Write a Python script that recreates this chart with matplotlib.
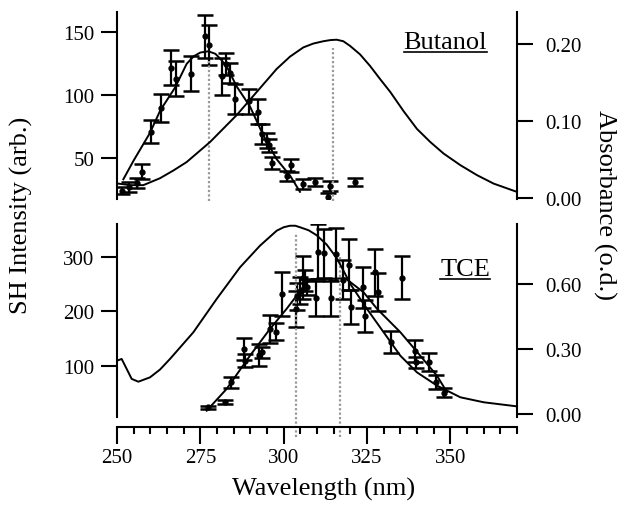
import matplotlib
matplotlib.use("Agg")
import matplotlib.pyplot as plt
from matplotlib.lines import Line2D
from matplotlib.ticker import MultipleLocator, FormatStrFormatter

plt.rcParams['font.family'] = ['Liberation Serif', 'DejaVu Serif']

# ---- Butanol (top panel) ----
but_wl = [251.5, 253.5, 255.9, 257.6, 260.2, 263.1, 266.2, 267.7, 272.3, 276.4,
          277.6, 281.6, 282.7, 283.8, 285.5, 289.5, 292.2, 293.6, 294.9, 295.7,
          296.5, 301.0, 302.2, 305.7, 309.4, 313.8, 313.2, 321.4]
but_sh = [24, 27, 30, 39, 71, 90, 122, 113, 117, 147,
          140, 115, 125, 118, 97, 95, 87, 69, 64, 60,
          46, 36, 44, 29, 31, 28, 19, 31]
but_err = [3, 4, 4, 6, 9, 11, 14, 14, 14, 17,
           16, 15, 9, 8, 12, 10, 10, 8, 6, 5,
           5, 4, 5, 4, 3, 4, 3, 3]
but_fit_wl = [251.9, 255.0, 259.9, 263.0, 267.4, 270.9, 273.0, 275.0, 277.4, 279.5,
              281.0, 282.9, 285.9, 289.9, 293.9, 297.9, 301.9, 304.9]
but_fit_sh = [33, 48, 70, 88, 106, 125, 131, 134, 135, 133,
              129, 123, 107, 91, 68, 49, 36, 23]
but_abs_wl = [250.4, 254.0, 257.9, 262.9, 266.9, 270.9, 277.9, 285.9, 291.9, 297.9,
              301.9, 305.9, 308.9, 311.9, 314.0, 315.9, 317.9, 319.9, 322.9, 325.9,
              328.9, 332.0, 336.0, 340.0, 344.0, 348.0, 353.0, 358.0, 363.0, 369.5]
but_abs = [0.019, 0.017, 0.017, 0.026, 0.036, 0.047, 0.073, 0.108, 0.138, 0.168,
           0.184, 0.196, 0.201, 0.204, 0.2055, 0.206, 0.204, 0.198, 0.187, 0.172,
           0.155, 0.138, 0.113, 0.090, 0.073, 0.058, 0.043, 0.030, 0.019, 0.009]
but_peaks = [277.6, 314.8]

# ---- TCE (bottom panel) ----
tce_wl = [277.4, 282.4, 284.1, 288.1, 288.3, 292.7, 293.4, 295.9, 297.6, 299.5,
          303.6, 304.0, 305.0, 305.8, 306.5, 307.0, 309.7, 310.3, 312.1, 314.2,
          315.8, 317.8, 319.5, 320.3, 323.9, 324.4, 327.4, 328.3, 332.2, 335.6,
          339.4, 339.7, 343.6, 345.7, 348.1]
tce_sh = [24, 34, 70, 131, 110, 120, 125, 168, 163, 232,
          205, 228, 238, 262, 257, 245, 224, 310, 307, 224,
          306, 258, 286, 208, 244, 192, 272, 236, 144, 262,
          127, 107, 107, 70, 51]
tce_err = [3, 4, 10, 20, 12, 20, 10, 25, 15, 40,
           33, 25, 25, 40, 20, 15, 32, 50, 45, 32,
           48, 36, 47, 31, 37, 29, 43, 35, 20, 39,
           20, 10, 17, 13, 8]
tce_fit_wl = [276.9, 282.9, 289.9, 295.9, 300.9, 303.4, 306.4, 308.4, 313.0,
              318.5, 324.0, 328.0, 335.0, 340.0, 346.0, 349.0]
tce_fit_sh = [18, 58, 119, 168, 205, 225, 250, 259, 260,
              261, 235, 205, 162, 126, 82, 52]
tce_abs_wl = [250.0, 251.4, 252.9, 254.4, 256.4, 259.9, 262.9, 265.9, 272.9, 279.9,
              286.9, 292.9, 297.9, 300.0, 301.9, 303.5, 304.9, 307.5, 309.9, 312.9,
              315.9, 318.0, 320.0, 325.0, 330.0, 335.0, 340.0, 346.0, 353.0, 360.0,
              369.5]
tce_abs = [0.246, 0.254, 0.208, 0.162, 0.149, 0.169, 0.205, 0.254, 0.377, 0.531,
           0.677, 0.777, 0.846, 0.862, 0.869, 0.869, 0.862, 0.848, 0.825, 0.782,
           0.720, 0.660, 0.600, 0.485, 0.377, 0.269, 0.192, 0.131, 0.077, 0.054,
           0.036]
tce_peaks = [303.6, 316.9]

fig = plt.figure(figsize=(6.28, 5.06), dpi=100)
W, H = 628.0, 506.0
x0, x1 = 117, 517
ax_top = fig.add_axes([x0 / W, 1 - 200 / H, (x1 - x0) / W, (200 - 13) / H])
ax_bot = fig.add_axes([x0 / W, 1 - 418 / H, (x1 - x0) / W, (418 - 225) / H])
ax_top2 = ax_top.twinx()
ax_bot2 = ax_bot.twinx()

lw = 1.4
err_kw = dict(fmt='o', color='black', ms=3.5, elinewidth=1.6, capsize=5.5, capthick=1.8)
peak_kw = dict(color='0.6', lw=1.6, linestyles=(0, (1, 1)), clip_on=False)

# top panel
ax_top.errorbar(but_wl, but_sh, yerr=but_err, **err_kw)
ax_top.plot(but_fit_wl, but_fit_sh, color='black', lw=lw)
ax_top2.plot(but_abs_wl, but_abs, color='black', lw=lw)
ax_top.vlines(but_peaks[0], 15.7, 129, **peak_kw)
ax_top.vlines(but_peaks[1], 15.7, 138, **peak_kw)

# bottom panel
ax_bot.errorbar(tce_wl, tce_sh, yerr=tce_err, **err_kw)
ax_bot.plot(tce_fit_wl, tce_fit_sh, color='black', lw=lw)
ax_bot2.plot(tce_abs_wl, tce_abs, color='black', lw=lw)
ax_bot.vlines(tce_peaks[0], -30, 342, **peak_kw)
ax_bot.vlines(tce_peaks[1], -30, 303, **peak_kw)

for a in (ax_top, ax_bot, ax_top2, ax_bot2):
    a.set_xlim(250, 370)
    a.spines['top'].set_visible(False)
    for s in a.spines.values():
        s.set_linewidth(1.5)
    a.tick_params(labelsize=15, width=1.5, length=11.5, direction='out')

ax_top.set_ylim(17.3, 166.3)
ax_top2.set_ylim(-0.001, 0.242)
ax_bot.set_ylim(6.4, 360.5)
ax_bot2.set_ylim(-0.014, 0.877)

ax_top.set_yticks([50, 100, 150])
ax_bot.set_yticks([100, 200, 300])
ax_top2.set_yticks([0.0, 0.1, 0.2])
ax_bot2.set_yticks([0.0, 0.3, 0.6])
ax_top2.yaxis.set_major_formatter(FormatStrFormatter('%.2f'))
ax_bot2.yaxis.set_major_formatter(FormatStrFormatter('%.2f'))
ax_top.tick_params(axis='y', pad=5)
ax_bot.tick_params(axis='y', pad=5)
ax_top2.tick_params(axis='y', pad=9)
ax_bot2.tick_params(axis='y', pad=9)

for a in (ax_top, ax_top2, ax_bot2):
    a.spines['bottom'].set_visible(False)
    a.tick_params(axis='x', bottom=False, labelbottom=False)
for a in (ax_top, ax_bot):
    a.spines['right'].set_visible(False)
for a in (ax_top2, ax_bot2):
    a.spines['left'].set_visible(False)

ax_bot.spines['bottom'].set_position(('outward', 7))
ax_bot.xaxis.set_major_locator(MultipleLocator(25))
ax_bot.xaxis.set_minor_locator(MultipleLocator(5))
ax_bot.tick_params(axis='x', which='major', length=12, width=1.5, pad=3)
ax_bot.tick_params(axis='x', which='minor', length=5, width=1.5)

fig.text(0.034, 1 - 215 / H, 'SH Intensity (arb.)', rotation=90, ha='center', va='center', fontsize=19)
fig.text(0.963, 1 - 205 / H, 'Absorbance (o.d.)', rotation=270, ha='center', va='center', fontsize=19)
fig.text(324 / W, 1 - 489 / H, 'Wavelength (nm)', ha='center', va='center', fontsize=19)

t1 = ax_top.text(0.925, 0.84, 'Butanol', transform=ax_top.transAxes, ha='right', va='center', fontsize=19)
t2 = ax_bot.text(0.9325, 0.767, 'TCE', transform=ax_bot.transAxes, ha='right', va='center', fontsize=19)

# underline the panel labels
fig.canvas.draw()
inv = fig.transFigure.inverted()
for t in (t1, t2):
    bb = t.get_window_extent()
    (fx0, fy0), (fx1, _) = inv.transform([(bb.x0, bb.y0 + 1), (bb.x1, bb.y0 + 1)])
    fig.add_artist(Line2D([fx0, fx1], [fy0, fy0], color='black', lw=1.2, transform=fig.transFigure))

fig.savefig("out.png", dpi=100)
